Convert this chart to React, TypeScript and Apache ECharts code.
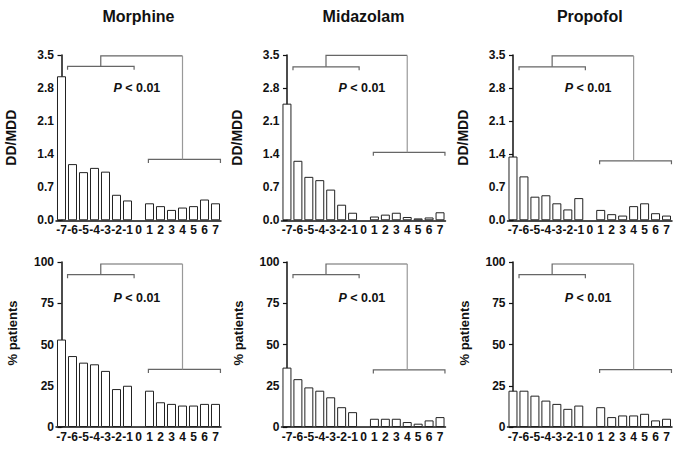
import React, { useEffect, useRef } from "react";
import * as echarts from "echarts";

const CATEGORIES = ["-7", "-6", "-5", "-4", "-3", "-2", "-1", "0", "1", "2", "3", "4", "5", "6", "7"];
const DRUGS = ["Morphine", "Midazolam", "Propofol"];

const MORPHINE_DD = [3.05, 1.19, 1.02, 1.11, 1.03, 0.54, 0.42, null, 0.36, 0.3, 0.22, 0.27, 0.3, 0.44, 0.36];
const MIDAZOLAM_DD = [2.47, 1.26, 0.92, 0.85, 0.65, 0.33, 0.16, null, 0.08, 0.12, 0.16, 0.07, 0.04, 0.06, 0.17];
const PROPOFOL_DD = [1.35, 0.93, 0.5, 0.53, 0.36, 0.23, 0.47, null, 0.22, 0.13, 0.1, 0.3, 0.36, 0.15, 0.1];

const MORPHINE_PCT = [53, 43, 39, 38, 34, 23, 25, null, 22, 15, 14, 13, 13, 14, 14];
const MIDAZOLAM_PCT = [36, 29, 24, 22, 18, 12, 9, null, 5, 5, 5, 3, 2, 4, 6];
const PROPOFOL_PCT = [22, 22, 19, 16, 14, 11, 13, null, 12, 6, 7, 7, 8, 4, 5];

const DD_TICKS = [0, 0.7, 1.4, 2.1, 2.8, 3.5];
const PCT_TICKS = [0, 25, 50, 75, 100];

// bracket annotation: [left group from, to], stem x, [right group from, to], right stem x (category-index units)
const LEFT_GROUP = [0.55, 6.6];
const LEFT_STEM = 3.57;
const RIGHT_GROUP = [7.9, 14.45];
const RIGHT_STEM = 11.0;
// bracket levels per panel: [left bracket, top connector, right bracket]
const DD_LEVELS = [
  [3.26, 3.48, 1.29],
  [3.25, 3.49, 1.44],
  [3.25, 3.48, 1.26],
];
const PCT_LEVELS = [
  [92.3, 98.8, 34.9],
  [92.3, 98.8, 34.6],
  [92.3, 98.8, 34.8],
];
const P_LABEL = "< 0.01";
const P_POS_X = 6.85;
const DD_P_Y = 2.8;
const PCT_P_Y = 78;

const FONT = "'Liberation Sans', Arial, Helvetica, sans-serif";

export default function App() {
  const ref = useRef<HTMLDivElement>(null);

  useEffect(() => {
    document.body.style.margin = "0";
    const chart = echarts.init(ref.current!, null, { renderer: "svg" });

    const colLeft = [56, 281.5, 507.5];
    const colWidth = [165, 164, 164.5];
    const rowTop = [55, 262];
    const rowHeight = [165.3, 165];

    const ddData = [MORPHINE_DD, MIDAZOLAM_DD, PROPOFOL_DD];
    const pctData = [MORPHINE_PCT, MIDAZOLAM_PCT, PROPOFOL_PCT];

    const grids: any[] = [];
    const xAxes: any[] = [];
    const yAxes: any[] = [];
    const series: any[] = [];
    let idx = 0;

    for (let r = 0; r < 2; r++) {
      for (let c = 0; c < 3; c++) {
        const isDD = r === 0;
        const ticks = isDD ? DD_TICKS : PCT_TICKS;
        const levels = isDD ? DD_LEVELS[c] : PCT_LEVELS[c];
        grids.push({ left: colLeft[c], top: rowTop[r], width: colWidth[c], height: rowHeight[r], containLabel: false });
        xAxes.push({
          type: "category",
          gridIndex: idx,
          data: CATEGORIES,
          boundaryGap: true,
          axisTick: { show: false },
          axisLine: { lineStyle: { color: "#111", width: 1.5 } },
          axisLabel: { interval: 0, fontSize: 12, fontWeight: "bold", color: "#111", fontFamily: FONT, margin: 4 },
          splitLine: { show: false },
        });
        xAxes.push({ type: "value", gridIndex: idx, min: -0.5, max: 14.5, show: false });
        yAxes.push({
          type: "value",
          gridIndex: idx,
          min: ticks[0],
          max: ticks[ticks.length - 1],
          interval: ticks[1] - ticks[0],
          name: isDD ? "DD/MDD" : "% patients",
          nameLocation: "middle",
          nameGap: isDD ? 38 : 37,
          nameTextStyle: isDD
            ? { fontSize: 14, fontWeight: "bold", color: "#111", fontFamily: FONT }
            : { fontSize: 13, fontWeight: "bold", color: "#111", fontFamily: FONT, padding: [0, 0, 0, 23] },
          axisLine: { show: true, lineStyle: { color: "#111", width: 1.5 } },
          axisTick: { show: true, length: 4, lineStyle: { color: "#111", width: 1.2 } },
          axisLabel: {
            fontSize: 12,
            fontWeight: "bold",
            color: "#111",
            fontFamily: FONT,
            margin: 2,
            formatter: (v: number) => (isDD ? v.toFixed(1) : String(Math.round(v))),
          },
          splitLine: { show: false },
        });
        series.push({
          type: "bar",
          xAxisIndex: idx * 2,
          yAxisIndex: idx,
          data: isDD ? ddData[c] : pctData[c],
          barCategoryGap: "18%",
          itemStyle: { color: "#fff", borderColor: "#222", borderWidth: 1 },
          silent: true,
        });
        const pY = isDD ? DD_P_Y : PCT_P_Y;
        series.push({
          type: "custom",
          xAxisIndex: idx * 2 + 1,
          yAxisIndex: idx,
          data: [[0, 0]],
          silent: true,
          renderItem: (_params: any, api: any) => {
            const p = (x: number, y: number) => api.coord([x, y]);
            const tick = 3.5;
            const [yl, yt, yr] = levels;
            const a1 = p(LEFT_GROUP[0], yl);
            const a2 = p(LEFT_GROUP[1], yl);
            const b1 = p(RIGHT_GROUP[0], yr);
            const b2 = p(RIGHT_GROUP[1], yr);
            const s1 = p(LEFT_STEM, yl);
            const s2 = p(LEFT_STEM, yt);
            const t2 = p(RIGHT_STEM, yt);
            const t3 = p(RIGHT_STEM, yr);
            const br = { stroke: "#666", lineWidth: 1.2, fill: "none" };
            const txt = p(P_POS_X, pY);
            return {
              type: "group",
              children: [
                { type: "polyline", shape: { points: [[a1[0], a1[1] + tick], a1, a2, [a2[0], a2[1] + tick]] }, style: br },
                { type: "polyline", shape: { points: [[b1[0], b1[1] + tick], b1, b2, [b2[0], b2[1] + tick]] }, style: br },
                { type: "polyline", shape: { points: [s1, s2, t2] }, style: br },
                { type: "polyline", shape: { points: [t2, t3] }, style: { stroke: "#999", lineWidth: 1.2, fill: "none" } },
                {
                  type: "text",
                  style: {
                    text: "{i|P} " + P_LABEL,
                    x: txt[0],
                    y: txt[1],
                    align: "center",
                    verticalAlign: "middle",
                    fill: "#111",
                    fontSize: 12.5,
                    fontWeight: "bold",
                    fontFamily: FONT,
                    rich: { i: { fontStyle: "italic", fontWeight: "bold", fontSize: 12.5, fontFamily: FONT, fill: "#111" } },
                  },
                },
              ],
            };
          },
        });
        idx++;
      }
    }

    const titleX = colLeft.map((l, i) => l + colWidth[i] / 2);
    const graphic = DRUGS.map((d, i) => ({
      type: "text",
      x: titleX[i],
      y: 16,
      style: { text: d, fontSize: 16, fontWeight: "bold", fill: "#111", fontFamily: FONT, align: "center", verticalAlign: "middle" },
    }));

    chart.setOption({
      animation: false,
      backgroundColor: "#fff",
      grid: grids,
      xAxis: xAxes,
      yAxis: yAxes,
      series,
      graphic,
    });
    return () => chart.dispose();
  }, []);

  return <div ref={ref} style={{ width: 685, height: 453 }} />;
}
